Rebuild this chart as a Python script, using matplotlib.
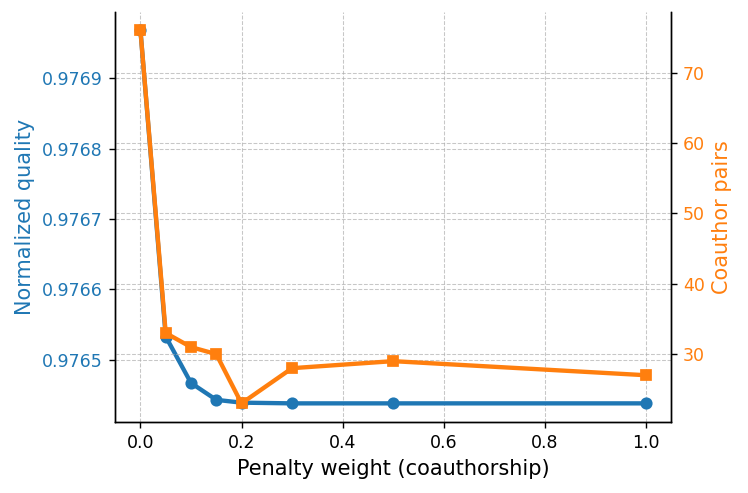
import matplotlib
matplotlib.use("Agg")
import matplotlib.pyplot as plt

# penalty weights and results
penalty = [0.0, 0.05, 0.1, 0.15, 0.2, 0.3, 0.5, 1.0]
quality = [0.976968, 0.976533, 0.976467, 0.976443, 0.976439, 0.976438, 0.976438, 0.976438]
pairs = [76, 33, 31, 30, 23, 28, 29, 27]

blue = "#1f77b4"
orange = "#ff7f0e"

fig, ax = plt.subplots(figsize=(748 / 125, 493 / 125), dpi=125)
fig.subplots_adjust(left=0.154, right=0.897, top=0.976, bottom=0.144)

ax.plot(penalty, quality, "-o", color=blue, lw=2.5, markersize=6)
ax.set_xlabel("Penalty weight (coauthorship)", fontsize=12)
ax.set_ylabel("Normalized quality", color=blue, fontsize=12)
ax.tick_params(axis="y", labelcolor=blue, labelsize=10)
ax.tick_params(axis="x", labelsize=10)
ax.grid(True, linestyle="--", color="#b0b0b0", alpha=0.7, linewidth=0.6)
ax.ticklabel_format(axis="y", useOffset=False)

ax2 = ax.twinx()
ax2.plot(penalty, pairs, "-s", color=orange, lw=2.5, markersize=6)
ax2.set_ylabel("Coauthor pairs", color=orange, fontsize=12)
ax2.tick_params(axis="y", labelcolor=orange, labelsize=10)
ax2.grid(True, linestyle="--", color="#b0b0b0", alpha=0.7, linewidth=0.6)

for a in (ax, ax2):
    a.spines["top"].set_visible(False)

plt.savefig("out.png", dpi=125)
plt.close()
